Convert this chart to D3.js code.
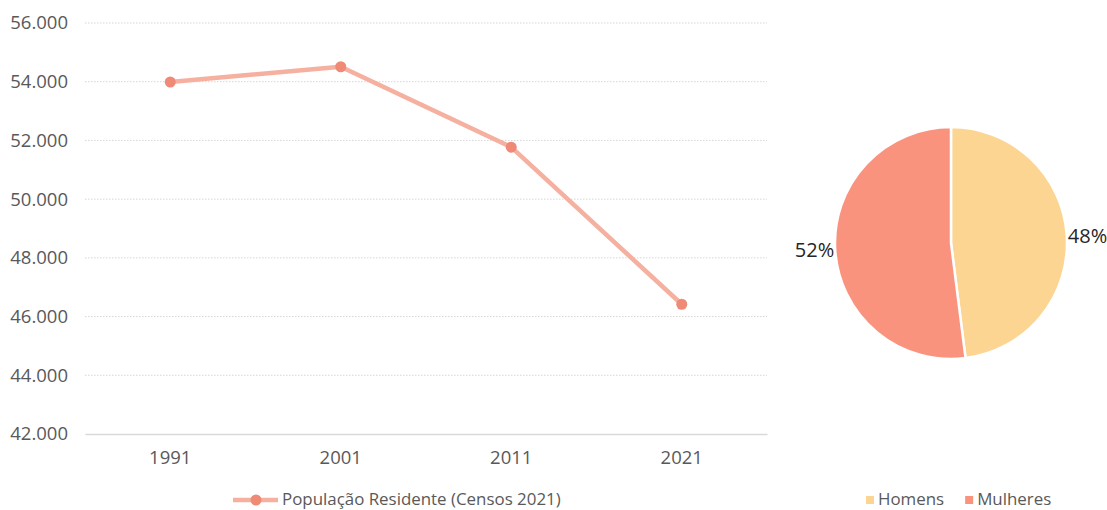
<!DOCTYPE html>
<html>
<head>
<meta charset="utf-8">
<script src="https://cdn.jsdelivr.net/npm/d3@7"></script>
<style>
  html, body { margin: 0; padding: 0; background: #fff; }
  svg { display: block; font-family: "Open Sans", "Noto Sans", sans-serif; }
</style>
</head>
<body>
<svg id="chart" width="1107" height="510"></svg>
<script>
// Resident population by census year
const years = ["1991", "2001", "2011", "2021"];
const population = [53990, 54510, 51770, 46420];
const yTicks = [42000, 44000, 46000, 48000, 50000, 52000, 54000, 56000];
const lineLabel = "População Residente (Censos 2021)";

// Sex distribution
const sexLabels = ["Homens", "Mulheres"];
const sexShares = [48, 52];
const sexColors = ["#fcd592", "#f9937d"];

const svg = d3.select("#chart");
const fmt = v => d3.format(",")(v).replace(/,/g, ".");

// ---- Line chart ----
const x = d3.scaleBand().domain(years).range([85, 767]);
const y = d3.scaleLinear().domain([42000, 56000]).range([434, 23]);

const grid = svg.append("g");
grid.selectAll("line").data(yTicks.filter(t => t > 42000)).join("line")
  .attr("x1", 85).attr("x2", 767)
  .attr("y1", d => y(d)).attr("y2", d => y(d))
  .attr("stroke", "#d6d6d6").attr("stroke-width", 1)
  .attr("stroke-dasharray", "1.5,1.5");

const yAxis = svg.append("g").attr("transform", "translate(68,0)")
  .call(d3.axisLeft(y).tickValues(yTicks).tickFormat(fmt).tickSize(0).tickPadding(0));
yAxis.select(".domain").remove();
yAxis.selectAll("text").attr("fill", "#595959").style("font-size", "18.5px")
  .attr("font-family", "'Open Sans', sans-serif");

const xAxis = svg.append("g").attr("transform", `translate(0,${y(42000)})`)
  .call(d3.axisBottom(x).tickSize(0).tickPadding(17));
xAxis.select(".domain").attr("stroke", "#d9d9d9").attr("stroke-width", 1.5);
xAxis.selectAll("text").attr("fill", "#595959").style("font-size", "18.5px")
  .attr("font-family", "'Open Sans', sans-serif");

const pts = years.map((yr, i) => [x(yr) + x.bandwidth() / 2, y(population[i])]);
svg.append("path")
  .attr("d", d3.line()(pts))
  .attr("fill", "none").attr("stroke", "#f5b0a0").attr("stroke-width", 4.5)
  .attr("stroke-linejoin", "round");
svg.selectAll(".dot").data(pts).join("circle").attr("class", "dot")
  .attr("cx", d => d[0]).attr("cy", d => d[1]).attr("r", 5.5)
  .attr("fill", "#ef8a77");

// line legend
const lg = svg.append("g").attr("transform", "translate(233,500)");
lg.append("line").attr("x1", 0).attr("x2", 45).attr("y1", 0).attr("y2", 0)
  .attr("stroke", "#f5b0a0").attr("stroke-width", 4.5);
lg.append("circle").attr("cx", 23).attr("cy", 0).attr("r", 5.5).attr("fill", "#ef8a77");
lg.append("text").attr("x", 49).attr("y", 0).attr("dy", "0.3em")
  .attr("fill", "#595959").style("font-size", "16.9px").text(lineLabel);

// ---- Pie chart ----
const cx = 951, cy = 243, r = 116;
const pie = d3.pie().sort(null).value(d => d)(sexShares);
const arc = d3.arc().innerRadius(0).outerRadius(r);
const pg = svg.append("g").attr("transform", `translate(${cx},${cy})`);
pg.selectAll("path").data(pie).join("path")
  .attr("d", arc)
  .attr("fill", (d, i) => sexColors[i])
  .attr("stroke", "#fff").attr("stroke-width", 2.5);

const labelArc = d3.arc().innerRadius(r + 1).outerRadius(r + 1);
pg.selectAll(".lbl").data(pie).join("text").attr("class", "lbl")
  .attr("x", d => labelArc.centroid(d)[0])
  .attr("y", d => labelArc.centroid(d)[1])
  .attr("text-anchor", d => (d.startAngle + d.endAngle) / 2 < Math.PI ? "start" : "end")
  .attr("dy", "0.35em")
  .attr("fill", "#262626").style("font-size", "20px")
  .text(d => d.data + "%");

// pie legend
const pl = svg.append("g").attr("transform", "translate(866,500)");
let off = 0;
sexLabels.forEach((lbl, i) => {
  const g = pl.append("g").attr("transform", `translate(${off},0)`);
  g.append("rect").attr("x", 0).attr("y", -4).attr("width", 8).attr("height", 8)
    .attr("fill", sexColors[i]);
  const t = g.append("text").attr("x", 12).attr("y", 0).attr("dy", "0.3em")
    .attr("fill", "#595959").style("font-size", "16.9px").text(lbl);
  off += 12 + t.node().getComputedTextLength() + 21;
});
</script>
</body>
</html>
